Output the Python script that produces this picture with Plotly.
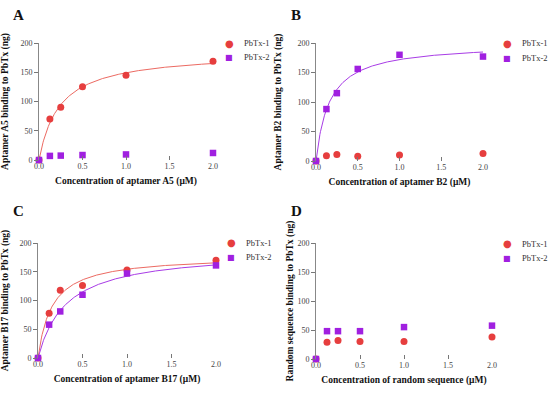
import numpy as np
import plotly.graph_objects as go

# ---- data ----
conc = [0, 0.125, 0.25, 0.5, 1.0, 2.0]

a5_pbtx1 = [0, 70, 90, 125, 145, 169]
a5_pbtx2 = [0, 7, 7.5, 8.5, 9.5, 12]

b2_pbtx1 = [0, 9, 11, 8, 10, 12.5]
b2_pbtx2 = [0, 88, 115, 156, 180, 177]

b17_pbtx1 = [0, 78, 118, 126, 153, 170]
b17_pbtx2 = [0, 58, 81, 110, 147, 161]

rand_pbtx1 = [0, 29, 32, 30, 30, 38]
rand_pbtx2 = [0, 48, 48, 48, 55, 57.5]

series_names = ["PbTx-1", "PbTx-2"]
x_tick_vals = [0, 0.5, 1.0, 1.5, 2.0]
y_tick_vals = [0, 50, 100, 150, 200]

panel_letters = ["A", "B", "C", "D"]
x_titles = ["Concentration of aptamer A5 (μM)", "Concentration of aptamer B2 (μM)",
            "Concentration of aptamer B17 (μM)", "Concentration of random sequence (μM)"]
y_titles = ["Aptamer A5 binding to PbTx (ng)", "Aptamer B2 binding to PbTx (ng)",
            "Aptamer B17 binding to PbTx (ng)", "Random sequence binding to PbTx (ng)"]

panels = [
    (a5_pbtx1, a5_pbtx2, (True, False)),
    (b2_pbtx1, b2_pbtx2, (False, True)),
    (b17_pbtx1, b17_pbtx2, (True, True)),
    (rand_pbtx1, rand_pbtx2, (False, False)),
]

RED = "#E63E3E"
PURPLE = "#A020E0"
RED_LINE = "#EC6A62"
PURPLE_LINE = "#A83CE6"
FONT = "Liberation Serif"

W, H = 550, 395


def px_x(p):
    return p / W


def px_y(p):
    return 1 - p / H


def one_site_fit(x, y):
    """Least-squares fit of y = Bmax*x/(Kd+x) (grid on Kd, closed form Bmax)."""
    x = np.asarray(x, float)
    y = np.asarray(y, float)
    best = None
    for kd in np.linspace(0.005, 3, 6000):
        f = x / (kd + x)
        bmax = f.dot(y) / f.dot(f)
        sse = ((bmax * f - y) ** 2).sum()
        if best is None or sse < best[0]:
            best = (sse, bmax, kd)
    _, bmax, kd = best
    xs = np.linspace(0, max(x), 300)
    return xs, bmax * xs / (kd + xs)


# pixel boxes of the plot areas in the reference: (left, right, top, bottom)
boxes = [(39, 213, 43, 160), (316, 483, 43, 161), (38, 216, 243, 358), (316, 492, 243, 359)]
legend_pos = [(229, 43, 57), (507, 43, 58), (231, 243, 257), (507, 244, 258)]
letter_pos = [(18, 15), (296, 15), (18, 211), (296, 211)]
ytitle_standoff = [14, 14, 14, 2]

fig = go.Figure()
layout = {}
annotations = []
for i, (s1, s2, fits) in enumerate(panels):
    n = "" if i == 0 else str(i + 1)
    xa, ya = "x" + n, "y" + n
    for vals, name, col, lcol, sym, dofit in [
        (s1, series_names[0], RED, RED_LINE, "circle", fits[0]),
        (s2, series_names[1], PURPLE, PURPLE_LINE, "square", fits[1]),
    ]:
        if dofit:
            xs, ys = one_site_fit(conc, vals)
            fig.add_trace(go.Scatter(x=xs, y=ys, mode="lines", xaxis=xa, yaxis=ya,
                                     line=dict(color=lcol, width=1), showlegend=False,
                                     hoverinfo="skip", cliponaxis=False))
        fig.add_trace(go.Scatter(x=conc, y=vals, mode="markers", name=name, xaxis=xa, yaxis=ya,
                                 showlegend=False, cliponaxis=False,
                                 marker=dict(color=col, size=7 if sym == "circle" else 6.5,
                                             symbol=sym, line=dict(width=0))))
    l, r, t, b = boxes[i]
    layout["xaxis" + n] = dict(
        domain=[px_x(l), px_x(r)], range=[0, 2], anchor=ya, automargin=False,
        tickvals=x_tick_vals, tickformat=".1f", ticks="inside", ticklen=4,
        tickcolor="#777", showline=False, showgrid=False, zeroline=False,
        ticklabelstandoff=0,
        tickfont=dict(family=FONT, size=8, color="#444"),
        title=dict(text=x_titles[i], standoff=7,
                   font=dict(family=FONT, size=9.5, color="#111", weight="bold")),
    )
    layout["yaxis" + n] = dict(
        domain=[px_y(b), px_y(t)], range=[0, 200], anchor=xa, automargin=False,
        tickvals=y_tick_vals, ticks="outside", ticklen=4, tickcolor="#777",
        showline=True, linecolor="#888", linewidth=1, showgrid=False, zeroline=False,
        tickfont=dict(family=FONT, size=8, color="#444"),
        title=dict(text=y_titles[i], standoff=ytitle_standoff[i],
                   font=dict(family=FONT, size=9.5, color="#111", weight="bold")),
    )
    # legend (symbol glyph + label)
    mx, y1, y2 = legend_pos[i]
    for (yy, glyph, gsize, col, name) in [(y1, "●", 10, RED, series_names[0]),
                                          (y2, "■", 8, PURPLE, series_names[1])]:
        annotations.append(dict(text=glyph, x=px_x(mx), y=px_y(yy), xref="paper", yref="paper",
                                xanchor="center", yanchor="middle", showarrow=False,
                                font=dict(family="DejaVu Sans", size=gsize, color=col)))
        annotations.append(dict(text=name, x=px_x(mx + 13), y=px_y(yy), xref="paper", yref="paper",
                                xanchor="left", yanchor="middle", showarrow=False,
                                font=dict(family=FONT, size=8.5, color="#333")))

for letter, (px, py) in zip(panel_letters, letter_pos):
    annotations.append(dict(text=letter, x=px_x(px), y=px_y(py), xref="paper", yref="paper",
                            xanchor="center", yanchor="middle", showarrow=False,
                            font=dict(family=FONT, size=15, color="#111", weight="bold")))

fig.update_layout(
    template="none",
    width=W, height=H, margin=dict(l=0, r=0, t=0, b=0, pad=0),
    paper_bgcolor="white", plot_bgcolor="white", showlegend=False,
    annotations=annotations, **layout,
)

fig.write_html("out.html", config={"displayModeBar": False},
               post_script="document.body.style.margin='0';")
